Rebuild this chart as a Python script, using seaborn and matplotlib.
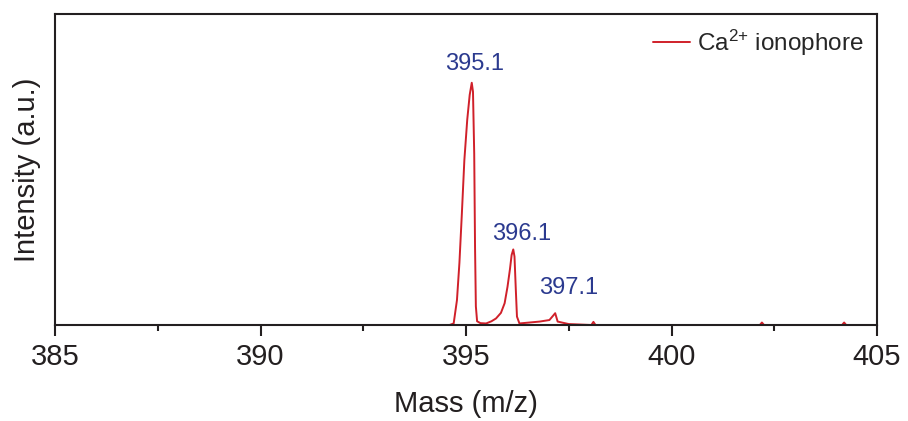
import matplotlib
matplotlib.use("Agg")
import matplotlib.pyplot as plt
from matplotlib.ticker import MultipleLocator, NullLocator
import pandas as pd
import seaborn as sns

# Mass spectrum of the Ca2+ ionophore (m/z vs. relative intensity)
mass = [385.0, 394.60, 394.70, 394.78, 394.84, 394.90, 394.96, 395.03, 395.09, 395.14,
        395.17, 395.20, 395.22, 395.24, 395.27, 395.35,
        395.49, 395.62, 395.73, 395.85, 395.94, 396.01, 396.07, 396.11, 396.15,
        396.18, 396.21, 396.24, 396.30,
        396.79, 397.03, 397.12, 397.17, 397.23, 397.50, 398.05, 398.10, 398.15,
        402.15, 402.20, 402.25, 404.15, 404.20, 404.25, 405.0]
intensity = [0.0, 0.0, 0.5, 8.0, 20.0, 36.0, 53.0, 66.0, 74.0, 77.9,
             75.0, 55.0, 25.0, 6.0, 1.2, 0.6,
             0.5, 1.2, 2.1, 3.9, 7.0, 12.3, 18.0, 22.5, 24.3,
             22.0, 12.0, 2.7, 0.5,
             1.1, 1.6, 3.0, 3.8, 1.1, 0.3, 0.0, 1.0, 0.0,
             0.0, 0.8, 0.0, 0.0, 0.8, 0.0, 0.0]

peak_masses = [395.1, 396.1, 397.1]
peak_heights = [77.9, 24.3, 3.8]
peak_labels = ["395.1", "396.1", "397.1"]
label_offsets = [(0.1, 2.5), (0.25, 1.5), (0.4, 4.5)]

series_name = "Ca$^{2{+}}$ ionophore"
x_ticks = [385, 390, 395, 400, 405]

sns.set_theme(style="white")
plt.rcParams["font.family"] = ["Liberation Sans", "DejaVu Sans"]
plt.rcParams["mathtext.fontset"] = "custom"
plt.rcParams["mathtext.rm"] = "Liberation Sans"
plt.rcParams["mathtext.it"] = "Liberation Sans:italic"
plt.rcParams["mathtext.default"] = "regular"

axis_color = "#231f20"
line_color = "#d0202a"
label_color = "#2b3a8f"

df = pd.DataFrame({"Mass": mass, "Intensity": intensity, "Sample": series_name})

fig = plt.figure(figsize=(9.08, 4.21), dpi=100)
ax = fig.add_axes([55 / 908, 1 - 325 / 421, 822 / 908, 311 / 421])

sns.lineplot(data=df, x="Mass", y="Intensity", hue="Sample", palette=[line_color],
             sort=False, linewidth=1.4, ax=ax)

for m, h, txt, (dx, dy) in zip(peak_masses, peak_heights, peak_labels, label_offsets):
    ax.text(m + dx, h + dy, txt, color=label_color, fontsize=17,
            ha="center", va="bottom")

ax.set_xlim(x_ticks[0], x_ticks[-1])
ax.set_ylim(0, 100)
ax.set_xticks(x_ticks)
ax.xaxis.set_minor_locator(MultipleLocator(2.5))
ax.yaxis.set_major_locator(NullLocator())
ax.tick_params(axis="x", which="major", direction="out", length=8, width=1.5,
               color=axis_color, labelsize=21, labelcolor=axis_color, pad=5,
               bottom=True, top=False)
ax.tick_params(axis="x", which="minor", direction="out", length=4.5, width=1.5,
               color=axis_color, bottom=True, top=False)
for sp in ax.spines.values():
    sp.set_color(axis_color)
    sp.set_linewidth(1.5)

ax.set_xlabel("Mass (m/z)", fontsize=21, color=axis_color, labelpad=14)
ax.set_ylabel("Intensity (a.u.)", fontsize=21, color=axis_color, labelpad=10)

leg = ax.legend(loc="upper right", bbox_to_anchor=(1.0, 1.0), frameon=False,
                fontsize=17.5, handlelength=1.5, handletextpad=0.3,
                borderaxespad=0.15)
for h in leg.legend_handles:
    h.set_linewidth(1.4)

fig.savefig("out.png", dpi=100)
